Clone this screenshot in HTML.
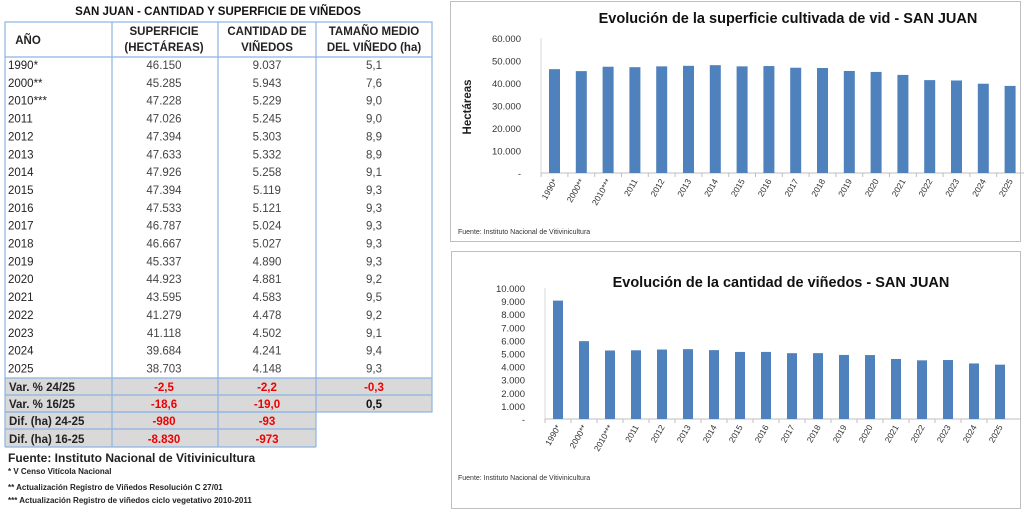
<!DOCTYPE html>
<html><head><meta charset="utf-8"><style>
body{margin:0;background:#fff;width:1024px;height:511px;overflow:hidden;font-family:"Liberation Sans",sans-serif}
svg text{font-family:"Liberation Sans",sans-serif}
</style></head><body>
<svg width="1024" height="511" viewBox="0 0 1024 511" xmlns="http://www.w3.org/2000/svg">
<!-- TABLE -->
<text x="218" y="15" text-anchor="middle" font-size="11.5" font-weight="bold" fill="#111">SAN JUAN  - CANTIDAD Y SUPERFICIE DE  VIÑEDOS</text>
<rect x="5" y="378" width="427" height="34" fill="#d9d9d9"/>
<rect x="5" y="412" width="311" height="35" fill="#d9d9d9"/>
<g stroke="#8db3e2" stroke-width="1.2" fill="none">
<rect x="5" y="22" width="427" height="390"/>
<line x1="5" y1="57" x2="432" y2="57"/>
<line x1="5" y1="378" x2="432" y2="378"/>
<line x1="5" y1="395" x2="432" y2="395"/>
<line x1="5" y1="412" x2="316" y2="412"/>
<line x1="5" y1="429" x2="316" y2="429"/>
<line x1="5" y1="447" x2="316" y2="447"/>
<line x1="5" y1="412" x2="5" y2="447"/>
<line x1="112" y1="22" x2="112" y2="447"/>
<line x1="218" y1="22" x2="218" y2="447"/>
<line x1="316" y1="22" x2="316" y2="447"/>
</g>
<g font-size="11.5" font-weight="bold" fill="#222" text-anchor="middle">
<text x="28" y="44">AÑO</text>
<text x="164" y="35">SUPERFICIE</text><text x="164" y="51">(HECTÁREAS)</text>
<text x="267" y="35">CANTIDAD  DE</text><text x="267" y="51">VIÑEDOS</text>
<text x="374" y="35">TAMAÑO MEDIO</text><text x="374" y="51">DEL VIÑEDO (ha)</text>
</g>
<g font-size="11.5" fill="#444" id="rows"></g>
<g font-size="11.5" font-weight="bold">
<text x="9" y="391" fill="#222">Var. % 24/25</text><text x="164" y="391" fill="#e00" text-anchor="middle">-2,5</text><text x="267" y="391" fill="#e00" text-anchor="middle">-2,2</text><text x="374" y="391" fill="#e00" text-anchor="middle">-0,3</text>
<text x="9" y="408" fill="#222">Var. % 16/25</text><text x="164" y="408" fill="#e00" text-anchor="middle">-18,6</text><text x="267" y="408" fill="#e00" text-anchor="middle">-19,0</text><text x="374" y="408" fill="#111" text-anchor="middle">0,5</text>
<text x="9" y="425" fill="#222">Dif. (ha) 24-25</text><text x="164" y="425" fill="#e00" text-anchor="middle">-980</text><text x="267" y="425" fill="#e00" text-anchor="middle">-93</text>
<text x="9" y="443" fill="#222">Dif. (ha) 16-25</text><text x="164" y="443" fill="#e00" text-anchor="middle">-8.830</text><text x="267" y="443" fill="#e00" text-anchor="middle">-973</text>
</g>
<text x="8" y="462" font-size="12" font-weight="bold" fill="#222">Fuente: Instituto Nacional de Vitivinicultura</text>
<g font-size="8" fill="#222" font-weight="bold">
<text x="8" y="474">*  V Censo Vitícola Nacional</text>
<text x="8" y="490">**  Actualización  Registro de Viñedos Resolución  C 27/01</text>
<text x="8" y="503">***  Actualización  Registro  de viñedos  ciclo vegetativo  2010-2011</text>
</g>
<!-- CHART 1 -->
<rect x="450.5" y="1.5" width="570" height="240" fill="#fff" stroke="#bfbfbf"/>
<text x="788" y="23" text-anchor="middle" font-size="14.5" font-weight="bold" fill="#111">Evolución de la superficie cultivada de vid - SAN JUAN</text>
<text transform="translate(471,107) rotate(-90)" text-anchor="middle" font-size="11.5" font-weight="bold" fill="#222">Hectáreas</text>
<g id="c1"></g>
<text x="458" y="234" font-size="7" fill="#333">Fuente: Instituto Nacional de Vitivinicultura</text>
<!-- CHART 2 -->
<rect x="451.5" y="251.5" width="569" height="257" fill="#fff" stroke="#bfbfbf"/>
<text x="781" y="287" text-anchor="middle" font-size="14.5" font-weight="bold" fill="#111">Evolución de la cantidad de viñedos - SAN JUAN</text>
<g id="c2"></g>
<text x="458" y="480" font-size="7" fill="#333">Fuente: Instituto Nacional de Vitivinicultura</text>
</svg>
<script>
const NS="http://www.w3.org/2000/svg";
function el(p,t,a,txt){const e=document.createElementNS(NS,t);for(const k in a)e.setAttribute(k,a[k]);if(txt!==undefined)e.textContent=txt;p.appendChild(e);return e;}
const yrs=["1990*","2000**","2010***","2011","2012","2013","2014","2015","2016","2017","2018","2019","2020","2021","2022","2023","2024","2025"];
const sup=[46150,45285,47228,47026,47394,47633,47926,47394,47533,46787,46667,45337,44923,43595,41279,41118,39684,38703];
const cant=[9037,5943,5229,5245,5303,5332,5258,5119,5121,5024,5027,4890,4881,4583,4478,4502,4241,4148];
const tam=["5,1","7,6","9,0","9,0","8,9","8,9","9,1","9,3","9,3","9,3","9,3","9,3","9,2","9,5","9,2","9,1","9,4","9,3"];
const fmt=v=>v>=1000?Math.floor(v/1000)+"."+String(v%1000).padStart(3,"0"):String(v);
const r=document.getElementById("rows");
yrs.forEach((y,i)=>{const yy=69+i*17.85;
el(r,"text",{x:8,y:yy,fill:"#222"},y);
el(r,"text",{x:164,y:yy,"text-anchor":"middle"},fmt(sup[i]));
el(r,"text",{x:267,y:yy,"text-anchor":"middle"},fmt(cant[i]));
el(r,"text",{x:374,y:yy,"text-anchor":"middle"},tam[i]);});
function chart(g,data,x0,base,top,max,step,bx,sp,bw){
 const G=document.getElementById(g);
 const sc=(base-top)/max;
 for(let v=0;v<=max;v+=step){const y=base-v*sc;el(G,"text",{x:x0-20,y:y+4,"text-anchor":"end","font-size":"9.5",fill:"#333"},v==0?"-":fmt(v));}
 el(G,"line",{x1:x0,y1:top,x2:x0,y2:base,stroke:"#d9d9d9"});
 el(G,"line",{x1:x0,y1:base,x2:x0+18*sp+8,y2:base,stroke:"#bfbfbf"});
 data.forEach((v,i)=>{const x=bx+i*sp;
  el(G,"rect",{x:x,y:base-v*sc,width:bw,height:v*sc,fill:"#4f81bd"});
  el(G,"line",{x1:x-(sp-bw)/2,y1:base,x2:x-(sp-bw)/2,y2:base+4,stroke:"#bfbfbf"});
  el(G,"text",{transform:`translate(${x+bw/2+3},${base+8}) rotate(-60)`,"text-anchor":"end","font-size":"8.5",fill:"#333"},yrs[i]);});
}
chart("c1",sup,541,173,38,60000,10000,549,26.8,11);
chart("c2",cant,545,419,288,10000,1000,553,26,10);
</script>
</body></html>
